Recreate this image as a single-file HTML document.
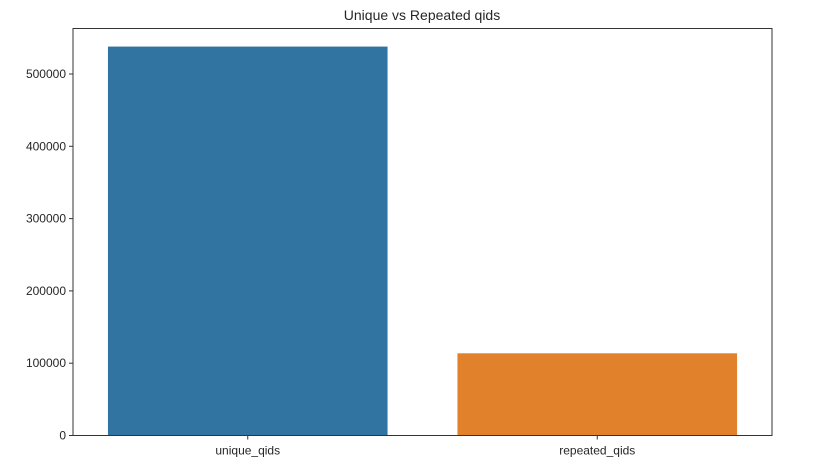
<!DOCTYPE html>
<html><head><meta charset="utf-8"><style>
body{margin:0;background:#fff;}
svg text{font-family:"Liberation Sans",sans-serif;fill:#262626;}
</style></head><body>
<svg id="chart" width="838" height="468" xmlns="http://www.w3.org/2000/svg">
<text x="422" y="20" font-size="14" text-anchor="middle">Unique vs Repeated qids</text>
<g id="bars"></g>
<g id="yticks"></g>
<g id="xticks"></g>
<rect x="73" y="28.5" width="699" height="407" fill="none" stroke="#333" stroke-width="1"/>
</svg>
<script>
const categories = ["unique_qids", "repeated_qids"];
const values = [537933, 113700];
const yTickValues = [0, 100000, 200000, 300000, 400000, 500000];
const colors = ["#3274a1", "#e1812c"];

const left = 73, right = 772, bottom = 435.5, pxPer100k = 72.3;
const ns = "http://www.w3.org/2000/svg";
const step = (right - left) / categories.length;
function y(v){ return bottom - v / 100000 * pxPer100k; }
function xc(i){ return left + step * (i + 0.5); }

const gb = document.getElementById('bars');
const gx = document.getElementById('xticks');
const gy = document.getElementById('yticks');
categories.forEach((c, i) => {
  const r = document.createElementNS(ns, 'rect');
  const w = step * 0.8;
  r.setAttribute('x', xc(i) - w / 2);
  r.setAttribute('y', y(values[i]));
  r.setAttribute('width', w);
  r.setAttribute('height', bottom - y(values[i]));
  r.setAttribute('fill', colors[i]);
  
  
  gb.appendChild(r);
  const t = document.createElementNS(ns, 'line');
  t.setAttribute('x1', xc(i)); t.setAttribute('x2', xc(i));
  t.setAttribute('y1', bottom); t.setAttribute('y2', bottom + 4);
  t.setAttribute('stroke', '#333');
  
  
  gx.appendChild(t);
  const l = document.createElementNS(ns, 'text');
  l.setAttribute('x', xc(i)); l.setAttribute('y', bottom + 19);
  l.setAttribute('font-size', '12'); l.setAttribute('text-anchor', 'middle');
  l.textContent = c;
  
  
  gx.appendChild(l);
});
yTickValues.forEach(v => {
  const t = document.createElementNS(ns, 'line');
  t.setAttribute('x1', left - 4); t.setAttribute('x2', left);
  t.setAttribute('y1', y(v)); t.setAttribute('y2', y(v));
  t.setAttribute('stroke', '#333');
  
  
  gy.appendChild(t);
  const l = document.createElementNS(ns, 'text');
  l.setAttribute('x', left - 7); l.setAttribute('y', y(v) + 4);
  l.setAttribute('font-size', '12'); l.setAttribute('text-anchor', 'end');
  l.textContent = String(v);
  
  
  gy.appendChild(l);
});
</script>
</body></html>
